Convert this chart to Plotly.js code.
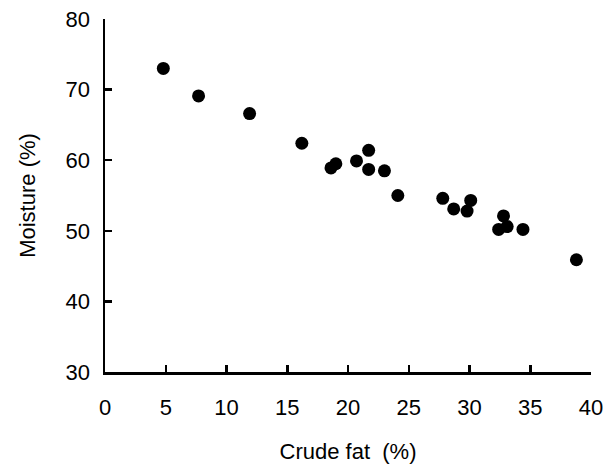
<!DOCTYPE html>
<html>
<head>
<meta charset="utf-8">
<script src="https://cdn.plot.ly/plotly-3.0.1.min.js"></script>
<style>html,body{margin:0;padding:0;background:#fff;}#chart{width:607px;height:468px;}</style>
</head>
<body>
<div id="chart"></div>
<script>
const crudeFat = [4.8, 7.7, 11.9, 16.2, 18.6, 19.0, 20.7, 21.7, 21.7, 23.0, 24.1, 27.8, 28.7, 29.8, 30.1, 32.4, 32.8, 33.1, 34.4, 38.8];
const moisture = [73.0, 69.1, 66.6, 62.4, 58.9, 59.5, 59.9, 61.4, 58.7, 58.5, 55.0, 54.6, 53.1, 52.8, 54.3, 50.2, 52.1, 50.6, 50.2, 45.9];
const xTicks = [0, 5, 10, 15, 20, 25, 30, 35, 40];
const yTicks = [30, 40, 50, 60, 70, 80];

const fnt = {family: 'Liberation Sans, Arial, sans-serif', size: 22, color: '#000'};

Plotly.newPlot('chart', [{
  x: crudeFat, y: moisture, type: 'scatter', mode: 'markers',
  marker: {color: '#000', size: 13, symbol: 'circle'},
  hoverinfo: 'none'
}], {
  width: 607, height: 468,
  margin: {l: 105, r: 16, t: 19, b: 96},
  paper_bgcolor: '#fff', plot_bgcolor: '#fff',
  showlegend: false,
  font: fnt,
  xaxis: {
    range: [0, 40], tickvals: xTicks, ticktext: xTicks.map(String),
    showgrid: false, zeroline: false,
    showline: true, linecolor: '#000', linewidth: 2.5,
    ticks: 'inside', ticklen: 7, tickwidth: 2.5, tickcolor: '#000',
    tickfont: fnt, ticklabelstandoff: 14,
    title: {text: 'Crude fat\u00a0 (%)', font: fnt, standoff: 25}
  },
  yaxis: {
    range: [30, 80], tickvals: yTicks, ticktext: yTicks.map(String),
    showgrid: false, zeroline: false,
    showline: true, linecolor: '#000', linewidth: 2.5,
    ticks: 'inside', ticklen: 7, tickwidth: 2.5, tickcolor: '#000',
    tickfont: fnt, ticklabelstandoff: 8,
    title: {text: 'Moisture (%)', font: fnt, standoff: 24}
  }
}, {displayModeBar: false, staticPlot: true});
</script>
</body>
</html>
